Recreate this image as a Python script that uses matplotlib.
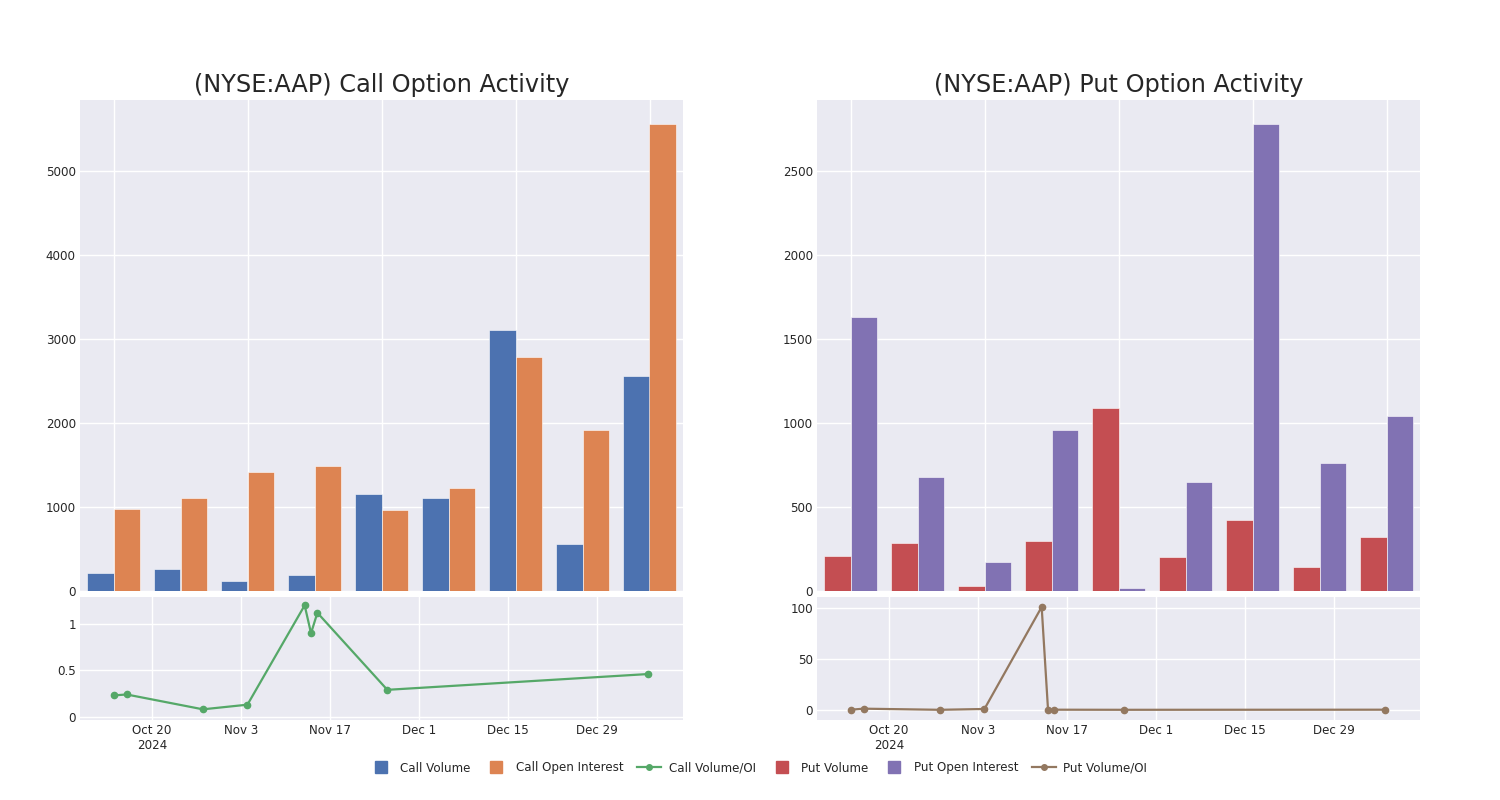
import numpy as np
import pandas as pd
import matplotlib
matplotlib.use("Agg")
import matplotlib.pyplot as plt
from matplotlib.lines import Line2D

# Data
groups = np.arange(9)
call_volume = [220, 265, 115, 190, 1150, 1110, 3100, 555, 2555]
call_oi = [975, 1105, 1420, 1490, 960, 1230, 2780, 1920, 5560]
put_volume = [210, 285, 30, 300, 1090, 205, 425, 145, 320]
put_oi = [1630, 680, 175, 960, 18, 650, 2780, 765, 1045]

ratio_dates = pd.to_datetime(["2024-10-14", "2024-10-16", "2024-10-28", "2024-11-04",
                              "2024-11-13", "2024-11-14", "2024-11-15", "2024-11-26",
                              "2025-01-06"])
call_ratio = [0.23, 0.24, 0.08, 0.13, 1.2, 0.9, 1.12, 0.29, 0.46]
put_ratio = [0.3, 1.3, 0.2, 1.0, 101, 0.3, 0.3, 0.2, 0.3]

tick_dates = pd.to_datetime(["2024-10-20", "2024-11-03", "2024-11-17",
                             "2024-12-01", "2024-12-15", "2024-12-29"])
tick_labels = ["Oct 20\n2024", "Nov 3", "Nov 17", "Dec 1", "Dec 15", "Dec 29"]

BLUE, ORANGE, RED, PURPLE = "#4C72B0", "#DD8452", "#C44E52", "#8172B3"
GREEN, BROWN = "#55A868", "#937860"
BG = "#EAEAF2"
TXT = "#262626"

plt.rcParams['font.family'] = ['DejaVu Sans']

fig = plt.figure(figsize=(15, 8), dpi=100)
W, H = 1500, 800


def axes_px(x0, y0, x1, y1):
    return fig.add_axes([x0 / W, 1 - y1 / H, (x1 - x0) / W, (y1 - y0) / H])


def style(ax):
    ax.set_facecolor(BG)
    for s in ax.spines.values():
        s.set_visible(False)
    ax.grid(True, color="white", linewidth=1.0)
    ax.set_axisbelow(True)
    ax.tick_params(length=0, labelsize=8.6, colors=TXT, pad=3)


def bar_panel(x0, vol, oi, c1, c2, top, title):
    ax = axes_px(x0, 100, x0 + 603, 591)
    style(ax)
    ax.bar(groups - 0.2, vol, width=0.4, color=c1, edgecolor="white", linewidth=0.4)
    ax.bar(groups + 0.2, oi, width=0.4, color=c2, edgecolor="white", linewidth=0.4)
    ax.set_xlim(-0.5, 8.5)
    ax.set_ylim(0, top)
    ax.set_xticks([0, 2, 4, 6, 8])
    ax.set_xticklabels([])
    ax.set_title(title, fontsize=17.3, color=TXT, pad=6)
    return ax


def line_panel(x0, vals, color, ylim, yticks, yticklabels):
    ax = axes_px(x0, 597, x0 + 603, 720)
    style(ax)
    ax.plot(ratio_dates, vals, "-o", color=color, markersize=4.5, linewidth=1.6)
    ax.set_xlim(pd.Timestamp("2024-10-08 16:00"), pd.Timestamp("2025-01-11 12:00"))
    ax.set_ylim(*ylim)
    ax.set_xticks(tick_dates)
    ax.set_xticklabels(tick_labels)
    ax.set_yticks(yticks)
    ax.set_yticklabels(yticklabels)
    return ax


bar_panel(80, call_volume, call_oi, BLUE, ORANGE, 5840, "(NYSE:AAP) Call Option Activity")
bar_panel(817, put_volume, put_oi, RED, PURPLE, 2924, "(NYSE:AAP) Put Option Activity")
line_panel(80, call_ratio, GREEN, (-0.035, 1.29), [0, 0.5, 1], ["0", "0.5", "1"])
line_panel(817, put_ratio, BROWN, (-9.8, 110.8), [0, 50, 100], ["0", "50", "100"])

handles = [
    Line2D([], [], marker="s", linestyle="none", color=BLUE, markersize=9),
    Line2D([], [], marker="s", linestyle="none", color=ORANGE, markersize=9),
    Line2D([], [], marker="o", color=GREEN, markersize=4, linewidth=1.6),
    Line2D([], [], marker="s", linestyle="none", color=RED, markersize=9),
    Line2D([], [], marker="s", linestyle="none", color=PURPLE, markersize=9),
    Line2D([], [], marker="o", color=BROWN, markersize=4, linewidth=1.6),
]
labels = ["Call Volume", "Call Open Interest", "Call Volume/OI",
          "Put Volume", "Put Open Interest", "Put Volume/OI"]
fig.legend(handles, labels, loc="center", bbox_to_anchor=(758 / W, 1 - 768 / H),
           ncol=6, frameon=False, fontsize=8.6, handlelength=2.0, columnspacing=1.2,
           handletextpad=0.6, labelcolor=TXT)

fig.savefig("out.png", dpi=100, facecolor="white")
